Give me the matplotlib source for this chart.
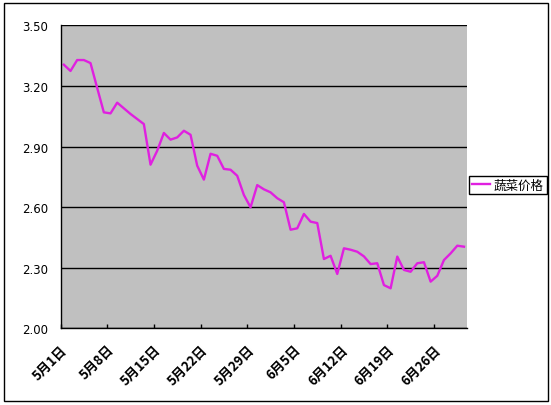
import matplotlib.pyplot as plt
from matplotlib.patches import Rectangle
import matplotlib.transforms as mtransforms
import pandas as pd
import numpy as np

plt.rcParams['font.family'] = ['Noto Sans CJK SC', 'DejaVu Sans']

# daily vegetable price, 5/1 - 6/30
dates = pd.date_range('2010-05-01', '2010-06-30', freq='D')
prices = [3.305, 3.274, 3.328, 3.328, 3.313, 3.190, 3.069, 3.064, 3.117, 3.089,
          3.061, 3.036, 3.011, 2.810, 2.879, 2.967, 2.934, 2.945, 2.978, 2.958,
          2.805, 2.736, 2.864, 2.854, 2.789, 2.785, 2.755, 2.660, 2.599, 2.709,
          2.688, 2.673, 2.644, 2.624, 2.488, 2.495, 2.566, 2.528, 2.521, 2.343,
          2.359, 2.269, 2.396, 2.389, 2.379, 2.356, 2.318, 2.322, 2.214, 2.198,
          2.355, 2.289, 2.280, 2.322, 2.327, 2.231, 2.260, 2.338, 2.371, 2.409,
          2.404]
series_name = '蔬菜价格'
yticks = [2.00, 2.30, 2.60, 2.90, 3.20, 3.50]

W, H = 551, 406
fig = plt.figure(figsize=(W / 100, H / 100), dpi=100)
ax = fig.add_axes([60.5 / W, 1 - 329.3 / H, (467.3 - 60.5) / W, (329.3 - 26.3) / H])
ax.set_facecolor('#C0C0C0')

# Excel date axis: points sit in the middle of each day
xpos = dates + pd.Timedelta(hours=12)
ax.plot(xpos, prices, color='#E020E0', lw=1.7, label=series_name)

ax.set_xlim(dates[0], dates[-1] + pd.Timedelta(days=1))
ax.set_ylim(2.0, 3.5)
ax.set_yticks(yticks)
ax.set_yticklabels(['%.2f' % v for v in yticks], family='DejaVu Sans', fontsize=8.5)
ax.grid(axis='y', color='black', lw=1)
ax.set_axisbelow(True)

xt = dates[::7]
ax.set_xticks(xt)
labs = ax.set_xticklabels([f'{d.month}月{d.day}日' for d in xt], rotation=45,
                          ha='right', va='top', rotation_mode='anchor',
                          fontsize=9.5, fontweight='bold')
shift = mtransforms.ScaledTranslation(-5 / 100, 0, fig.dpi_scale_trans)
for t in labs:
    t.set_transform(t.get_transform() + shift)
ax.tick_params(axis='x', direction='in', length=3, width=1, pad=10)
ax.tick_params(axis='y', length=0, pad=9)

for s in ['top', 'right']:
    ax.spines[s].set_visible(False)
for s in ['left', 'bottom']:
    ax.spines[s].set_color('black')
    ax.spines[s].set_linewidth(1)

leg = fig.legend(loc='center left', bbox_to_anchor=(469 / W, 1 - 186 / H),
                 fontsize=9, frameon=True, fancybox=False, edgecolor='black',
                 framealpha=1, borderpad=0.2, handlelength=1.5,
                 handletextpad=0.3, borderaxespad=0)
leg.get_frame().set_linewidth(1)

# outer chart border
fig.patches.append(Rectangle((3.5 / W, 4 / H), 544.5 / W, 398 / H, fill=False,
                             edgecolor='black', lw=1, transform=fig.transFigure))

fig.savefig('out.png', dpi=100)
